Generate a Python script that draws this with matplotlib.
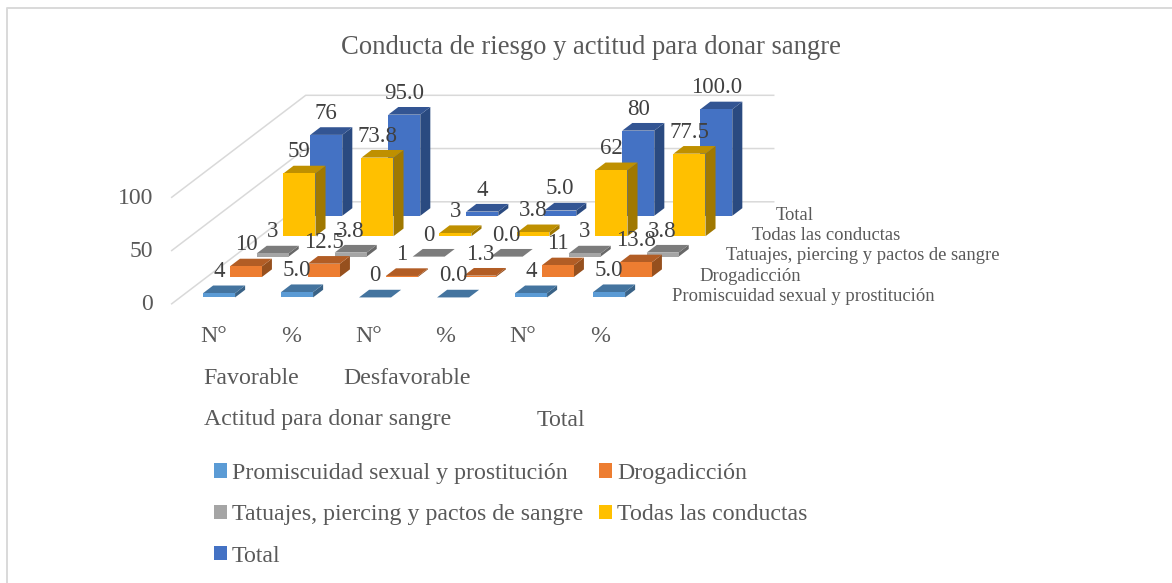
import matplotlib
matplotlib.use("Agg")
import matplotlib.pyplot as plt
from matplotlib.patches import Polygon, Patch

plt.rcParams["font.family"] = ["Liberation Serif", "DejaVu Serif"]

title = "Conducta de riesgo y actitud para donar sangre"
measures = ["N°", "%", "N°", "%", "N°", "%"]
attitudes = ["Favorable", "Desfavorable"]
groups = ["Actitud para donar sangre", "Total"]
series_names = ["Promiscuidad sexual y prostitución", "Drogadicción",
                "Tatuajes, piercing y pactos de sangre", "Todas las conductas", "Total"]

promiscuidad = [4, 5.0, 0, 0.0, 4, 5.0]
drogadiccion = [10, 12.5, 1, 1.3, 11, 13.8]
tatuajes = [3, 3.8, 0, 0.0, 3, 3.8]
todas = [59, 73.8, 3, 3.8, 62, 77.5]
total = [76, 95.0, 4, 5.0, 80, 100.0]
values = [promiscuidad, drogadiccion, tatuajes, todas, total]
# labels as printed in the chart
labels = [["4", "5.0", "0", "0.0", "4", "5.0"],
          ["10", "12.5", "1", "1.3", "11", "13.8"],
          ["3", "3.8", "0", "0.0", "3", "3.8"],
          ["59", "73.8", "3", "3.8", "62", "77.5"],
          ["76", "95.0", "4", "5.0", "80", "100.0"]]
yticks = [0, 50, 100]

front_cols = ["#5B9BD5", "#ED7D31", "#A5A5A5", "#FFC000", "#4472C4"]
top_cols = ["#44749F", "#B25D25", "#7C7C7C", "#BF9000", "#335593"]
side_cols = ["#396286", "#96501E", "#686868", "#A07800", "#2A4A80"]

# oblique projection of the Excel 3D column chart, in image pixels
ORIGIN = (171.7, 303.8)
CAT_W = 78.0
SER_DX, SER_DY = 26.8, 20.4
Z_SCALE = 1.065
BAR_W = 32 / CAT_W
BAR_D = 0.375


def project(cat, ser, z=0):
    return (ORIGIN[0] + cat * CAT_W + ser * SER_DX,
            ORIGIN[1] - ser * SER_DY - z * Z_SCALE)


fig = plt.figure(figsize=(11.72, 5.83), dpi=100)
ax = fig.add_axes([0, 0, 1, 1])
ax.set_xlim(0, 1172)
ax.set_ylim(583, 0)
ax.axis("off")

# chart frame: only left and top edges are in the crop
ax.plot([7, 7, 1172], [583, 7.5, 7.5], color="#D9D9D9", lw=1.4)

ncat = len(measures)
nser = len(values)

# gridlines on side wall and back wall
for t in yticks:
    ax.plot(*zip(project(0, 0, t), project(0, nser, t), project(ncat, nser, t)),
            color="#D9D9D9", lw=1.1, zorder=1)
    x, y = project(0, 0, t)
    ax.text(x - 18.5, y + 1, str(t), ha="right", va="center", fontsize=17, color="#595959")

# bars, back series first
for s in range(nser - 1, -1, -1):
    for c in range(ncat):
        x0 = c + (1 - BAR_W) / 2
        x1 = x0 + BAR_W
        y0 = s + (1 - BAR_D) / 2
        y1 = y0 + BAR_D
        v = values[s][c]
        z = 2 + (nser - s) * 2
        ax.add_patch(Polygon([project(x1, y0, 0), project(x1, y1, 0), project(x1, y1, v), project(x1, y0, v)],
                             fc=side_cols[s], ec="none", zorder=z))
        ax.add_patch(Polygon([project(x0, y0, v), project(x1, y0, v), project(x1, y1, v), project(x0, y1, v)],
                             fc=top_cols[s], ec="none", zorder=z))
        ax.add_patch(Polygon([project(x0, y0, 0), project(x1, y0, 0), project(x1, y0, v), project(x0, y0, v)],
                             fc=front_cols[s], ec="none", zorder=z))
        xt, yt = project((x0 + x1) / 2, y0, v)
        ax.text(xt, yt - 21.5, labels[s][c], ha="center", va="center",
                fontsize=16.5, color="#404040", zorder=30)

# series names along the depth axis
name_x = [672, 699, 726, 752, 776]
for s, name in enumerate(series_names):
    ax.text(name_x[s], project(0, s, 0)[1] - 7, name, ha="left", va="center",
            fontsize=13.4, color="#595959")

# three rows of category labels
for c, m in enumerate(measures):
    ax.text(214 + c * 77.2, 336.5, m, ha="center", va="center", fontsize=17.2, color="#595959")
for i, a in enumerate(attitudes):
    ax.text(project(2 * i + 1, 0)[0] + 1, 378, a, ha="center", va="center", fontsize=17.2, color="#595959")
ax.text(328, 420, groups[0], ha="center", va="center", fontsize=17.2, color="#595959")
ax.text(561, 420, groups[1], ha="center", va="center", fontsize=17.2, color="#595959")

ax.text(590.5, 48, title, ha="center", va="center", fontsize=19.2, color="#595959")

# column-first order gives the 3 + 2 rows of the reference
order = [0, 2, 4, 1, 3]
handles = [Patch(fc=front_cols[i], ec="none", label=series_names[i]) for i in order]
ax.legend(handles=handles, ncol=2, frameon=False, fontsize=17.2, labelcolor="#595959",
          loc="upper left", bbox_to_anchor=(214 / 1172, 1 - 463 / 583), borderpad=0, borderaxespad=0,
          handlelength=0.53, handleheight=0.53, handletextpad=0.22, labelspacing=0.85, columnspacing=0.68)

fig.savefig("out.png", dpi=100)
